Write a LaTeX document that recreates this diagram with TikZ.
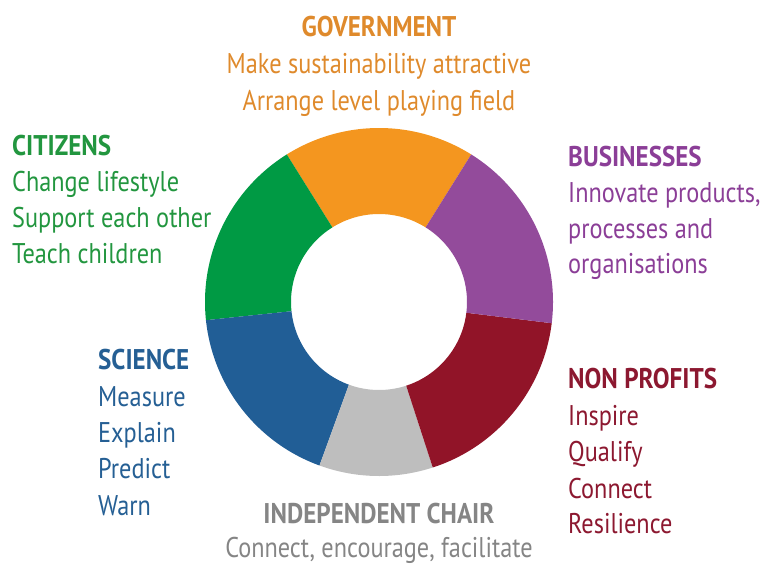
\documentclass[tikz,border=0pt]{standalone}
\usepackage{fontspec}
\setmainfont{PT Sans}[FakeStretch=0.852, BoldFeatures={FakeStretch=0.88}]
\begin{document}
\begin{tikzpicture}[x=1pt,y=1pt]
  % colours of the ring and of the texts
  \definecolor{ringOrange}{HTML}{F4961F}
  \definecolor{ringGreen}{HTML}{009A44}
  \definecolor{ringBlue}{HTML}{215E96}
  \definecolor{ringGray}{HTML}{BEBEBE}
  \definecolor{ringRed}{HTML}{911428}
  \definecolor{ringPurple}{HTML}{934B9B}
  \definecolor{txtOrange}{HTML}{DF8A2C}
  \definecolor{txtGreen}{HTML}{22963F}
  \definecolor{txtBlue}{HTML}{255F94}
  \definecolor{txtGray}{HTML}{858585}
  \definecolor{txtRed}{HTML}{8C1830}
  \definecolor{txtPurple}{HTML}{8B3E97}
  \tikzset{
    lbl/.style={inner sep=0pt, font=\fontsize{28.5}{34}\selectfont},
    head/.style={lbl, font=\fontsize{28.5}{34}\selectfont\bfseries},
    lw/.style={anchor=base west},
    lc/.style={anchor=base},
  }
  \useasboundingbox (0,0) rectangle (763,-565);
  \coordinate (ctr) at (379,-302);
  % ring segments: start angle, end angle, colour
  \foreach \a/\b/\c in {58/122/ringOrange, 122/186/ringGreen, 186/250/ringBlue,
                        250/288/ringGray, 288/353/ringRed, 353/418/ringPurple}{
    \fill[\c] ([shift={(\a:174)}]ctr) arc[start angle=\a, end angle=\b, radius=174]
      -- ([shift={(\b:88)}]ctr) arc[start angle=\b, end angle=\a, radius=88] -- cycle;
  }
  % government
  \node[head, lc, txtOrange] (govT) at (379,-36) {GOVERNMENT};
  \node[lbl, lc, txtOrange] (gov1) at (379,-73) {Make sustainability attractive};
  \node[lbl, lc, txtOrange] (gov2) at (379,-110) {Arrange level playing field};
  % citizens
  \node[head, lw, txtGreen] (citT) at (12,-155) {CITIZENS};
  \node[lbl, lw, txtGreen] (cit1) at (12,-191) {Change lifestyle};
  \node[lbl, lw, txtGreen] (cit2) at (12,-227) {Support each other};
  \node[lbl, lw, txtGreen] (cit3) at (12,-263) {Teach children};
  % businesses
  \node[head, lw, txtPurple] (busT) at (568,-166) {BUSINESSES};
  \node[lbl, lw, txtPurple] (bus1) at (568,-202) {Innovate products,};
  \node[lbl, lw, txtPurple] (bus2) at (568,-238) {processes and};
  \node[lbl, lw, txtPurple] (bus3) at (568,-273) {organisations};
  % science
  \node[head, lw, txtBlue] (sciT) at (98,-369.5) {SCIENCE};
  \node[lbl, lw, txtBlue] (sci1) at (98,-406) {Measure};
  \node[lbl, lw, txtBlue] (sci2) at (98,-442) {Explain};
  \node[lbl, lw, txtBlue] (sci3) at (98,-478.5) {Predict};
  \node[lbl, lw, txtBlue] (sci4) at (98,-515) {Warn};
  % non profits
  \node[head, lw, txtRed] (npT) at (568,-388.5) {NON PROFITS};
  \node[lbl, lw, txtRed] (np1) at (568,-425) {Inspire};
  \node[lbl, lw, txtRed] (np2) at (568,-461.5) {Qualify};
  \node[lbl, lw, txtRed] (np3) at (568,-498) {Connect};
  \node[lbl, lw, txtRed] (np4) at (568,-533.5) {Resilience};
  % independent chair
  \node[head, lc, txtGray] (chT) at (379,-523.5) {INDEPENDENT CHAIR};
  \node[lbl, lc, txtGray] (ch1) at (379,-557.5) {Connect, encourage, facilitate};
\end{tikzpicture}
\end{document}
